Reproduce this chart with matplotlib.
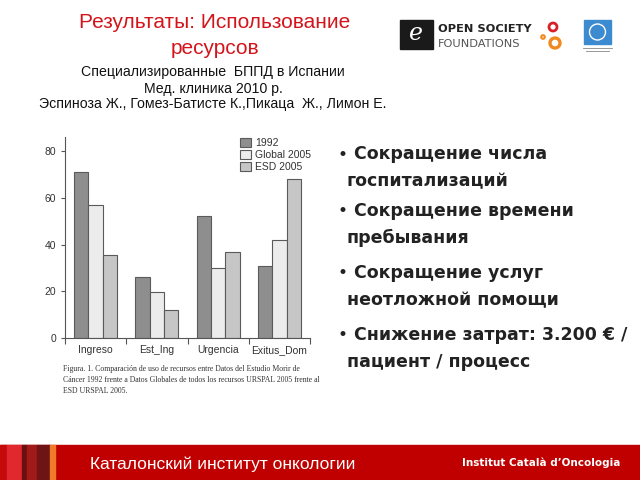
import matplotlib
matplotlib.use("Agg")
import matplotlib.pyplot as plt
import numpy as np
from matplotlib.patches import Rectangle, Circle

categories = ["Ingreso", "Est_Ing", "Urgencia", "Exitus_Dom"]
series_names = ["1992", "Global 2005", "ESD 2005"]
v1992 = [71, 26, 52, 31]
vglobal = [57, 19.5, 30, 42]
vesd = [35.5, 12, 37, 68]
yticks = [0, 20, 40, 60, 80]

title_lines = ["Результаты: Использование", "ресурсов"]
sub_lines = ["Специализированные  БППД в Испании", "Мед. клиника 2010 р.",
             "Эспиноза Ж., Гомез-Батисте К.,Пикаца  Ж., Лимон Е."]
bullets = [("Сокращение числа", "госпитализаций"),
           ("Сокращение времени", "пребывания"),
           ("Сокращение услуг", "неотложной помощи"),
           ("Снижение затрат: 3.200 € /", "пациент / процесс")]
caption = ["Figura. 1. Comparación de uso de recursos entre Datos del Estudio Morir de",
           "Cáncer 1992 frente a Datos Globales de todos los recursos URSPAL 2005 frente al",
           "ESD URSPAL 2005."]

plt.rcParams['font.family'] = ['Liberation Sans', 'DejaVu Sans']

W, H = 640, 480
fig = plt.figure(figsize=(6.4, 4.8), dpi=100)
fig.patch.set_facecolor("white")

def fx(px):
    return px / W

def fy(py):
    return 1 - py / H

# Chart axes
ax = fig.add_axes([fx(65), fy(338), fx(310) - fx(65), fy(137) - fy(338)])
x = np.arange(len(categories))
w = 0.235
colors = ["#8e8e8e", "#ececec", "#c6c6c6"]
for i, (vals, name) in enumerate(zip([v1992, vglobal, vesd], series_names)):
    ax.bar(x + (i - 1) * w, vals, width=w, color=colors[i], edgecolor="#5a5a5a",
           linewidth=0.8, label=name)
ax.set_xlim(-0.5, 3.5)
ax.set_ylim(0, 86)
ax.set_yticks(yticks)
ax.set_yticklabels([str(t) for t in yticks], fontsize=7.5, color="#333333")
ax.set_xticks(x)
ax.set_xticklabels(categories, fontsize=7.5, color="#333333")
ax.tick_params(axis="x", length=0, pad=5)
ax.tick_params(axis="y", length=3, color="#555555", width=0.8)
ax.set_xticks(np.arange(-0.5, 4, 1), minor=True)
ax.tick_params(axis="x", which="minor", length=4, color="#555555", width=0.8)
for s in ["top", "right"]:
    ax.spines[s].set_visible(False)
for s in ["left", "bottom"]:
    ax.spines[s].set_color("#555555")
    ax.spines[s].set_linewidth(0.8)
leg = ax.legend(loc="upper right", bbox_to_anchor=(1.02, 1.015), frameon=False,
                fontsize=7.5, handlelength=1.0, handleheight=1.0,
                handletextpad=0.4, labelspacing=0.15, borderaxespad=0)
for t in leg.get_texts():
    t.set_color("#333333")

# Caption
for i, line in enumerate(caption):
    fig.text(fx(63), fy(369 + i * 11), line, fontsize=5.6, family="Liberation Serif",
             color="#333333", va="center", ha="left")

# Title
fig.text(fx(215), fy(23), title_lines[0], fontsize=15, color="#d3141b",
         ha="center", va="center")
fig.text(fx(215), fy(48), title_lines[1], fontsize=15, color="#d3141b",
         ha="center", va="center")
for i, (line, yy) in enumerate(zip(sub_lines, [72, 89, 104])):
    fig.text(fx(213), fy(yy), line, fontsize=10.2, color="#111111",
             ha="center", va="center")

# Bullets
ys = [154, 211, 273, 335]
for (l1, l2), yy in zip(bullets, ys):
    fig.text(fx(339), fy(yy), "•", fontsize=12.5, fontweight="bold",
             color="#222222", ha="left", va="center")
    fig.text(fx(354), fy(yy), l1, fontsize=12.5, fontweight="bold",
             color="#222222", ha="left", va="center", family="DejaVu Sans")
    fig.text(fx(347), fy(yy + 27), l2, fontsize=12.5, fontweight="bold",
             color="#222222", ha="left", va="center", family="DejaVu Sans")

# Logos / footer overlay
ov = fig.add_axes([0, 0, 1, 1], zorder=5)
ov.set_xlim(0, W)
ov.set_ylim(H, 0)
ov.axis("off")
ov.add_patch(Rectangle((400, 20), 33, 29, color="#1a1a1a"))
ov.text(416, 34, "e", fontsize=17, color="white", ha="center", va="center",
        family="DejaVu Serif", style="italic")
ov.text(438, 29, "OPEN SOCIETY", fontsize=8.2, fontweight="bold", color="#222222",
        ha="left", va="center", family="Liberation Sans Narrow")
ov.text(438, 44, "FOUNDATIONS", fontsize=8.2, color="#555555",
        ha="left", va="center", family="Liberation Sans Narrow")
ov.add_patch(Circle((553, 27), 4, fill=False, ec="#d8202a", lw=2))
ov.add_patch(Circle((543, 37), 1.8, fill=False, ec="#f08a20", lw=1.5))
ov.add_patch(Circle((555, 43), 5, fill=False, ec="#f08a20", lw=2.4))
ov.add_patch(Rectangle((584, 20), 27, 24, color="#3c8ad0"))
ov.add_patch(Circle((597.5, 32), 8, fill=False, ec="white", lw=1))
ov.plot([583, 612], [48, 48], color="#888888", lw=0.6)
ov.plot([586, 609], [51, 51], color="#888888", lw=0.6)

ov.add_patch(Rectangle((0, 445), W, 35, color="#c00000"))
stripes = [(0, 7, "#c50a0a"), (7, 22, "#e0282e"), (22, 27, "#6a1010"),
           (27, 37, "#a01a1a"), (37, 50, "#6e1414"), (50, 55, "#f07a2a")]
for a, b, c in stripes:
    ov.add_patch(Rectangle((a, 445), b - a, 35, color=c))
ov.text(90, 464, "Каталонский институт онкологии", fontsize=12.5, color="white",
        ha="left", va="center")
ov.text(620, 463, "Institut Català d’Oncologia", fontsize=7.5, fontweight="bold",
        color="white", ha="right", va="center", family="Liberation Sans Narrow")

fig.savefig("out.png", dpi=100)
